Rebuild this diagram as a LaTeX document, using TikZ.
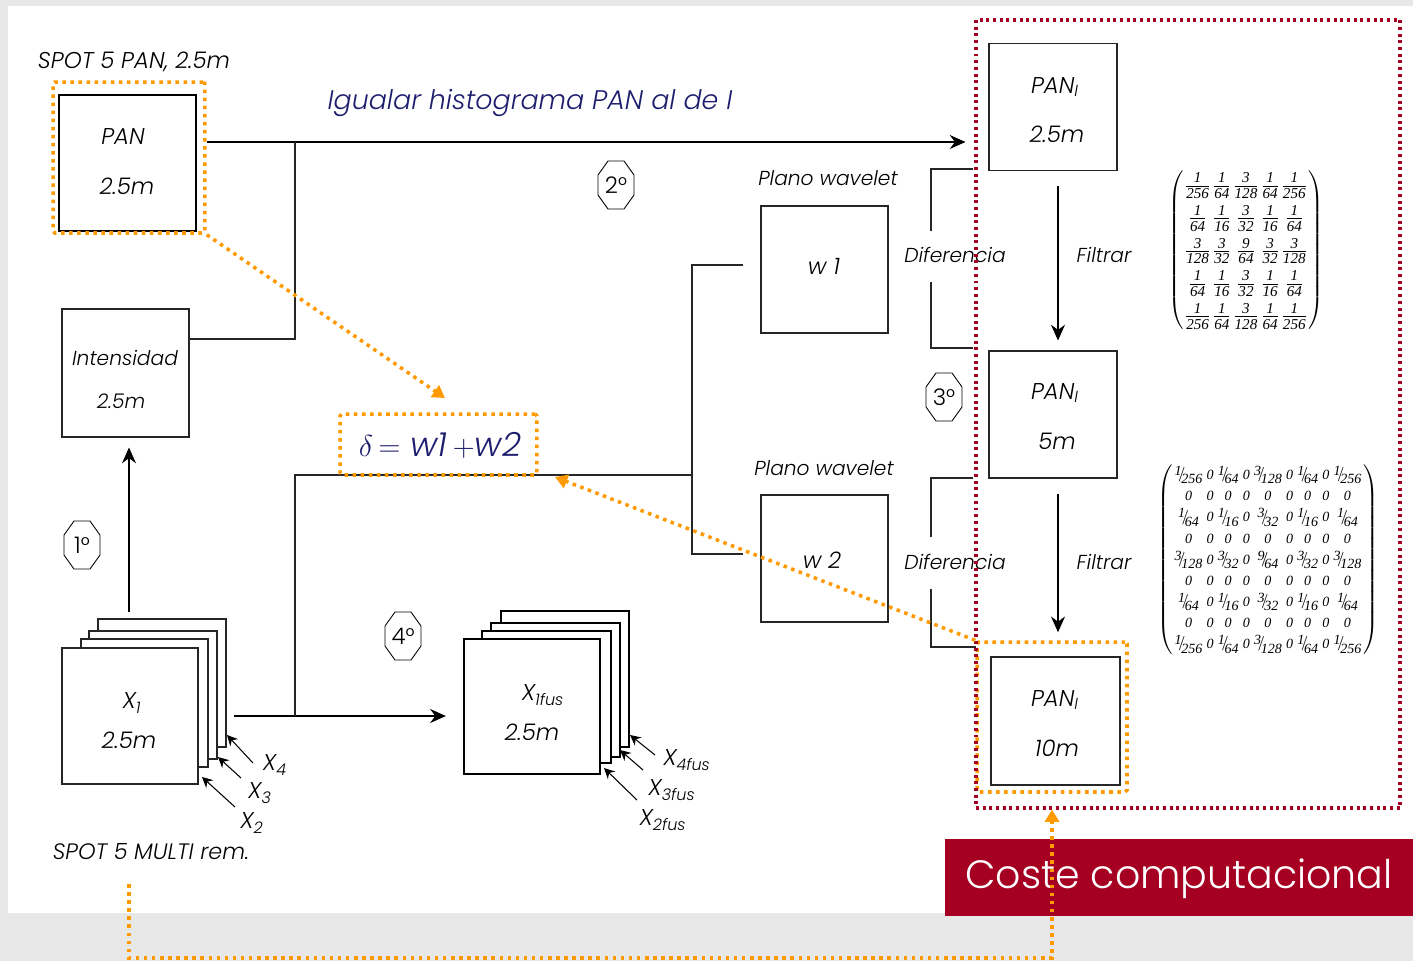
\documentclass[tikz,border=0pt]{standalone}
\usepackage{fontspec}
\usepackage{graphicx}
\setmainfont{Poppins}[UprightFont=* Light, ItalicFont=* Light Italic]
\newfontfamily\mtxf{Liberation Serif}
\usetikzlibrary{arrows.meta,calc}
\definecolor{orng}{RGB}{255,153,0}
\definecolor{dred}{RGB}{165,0,33}
\definecolor{navy}{RGB}{30,30,110}
\definecolor{bgray}{RGB}{232,232,232}
\newcommand\fs{\fontsize{11.5}{14}\selectfont}
\newcommand\fb{\fontsize{13}{14}\selectfont}
\newcommand\mf{\mtxf\itshape\fontsize{8}{8}\selectfont}
\newcommand\mfa{\mtxf\itshape\fontsize{8.6}{8.6}\selectfont}
\newcommand\fr[2]{\frac{\hbox{\mfa #1}}{\hbox{\mfa #2}}}
\newcommand\sfr[2]{\hbox{\mf\raisebox{0.3em}{#1}\kern-0.15em\raisebox{-0.15em}{\scalebox{1}[1.5]{/}}\kern-0.15em\raisebox{-0.3em}{#2}}}
\newcommand\zz{\hbox{\mf 0}}
\newcommand\octo[3]{%
  \node[font=\fb] (#1) at (#2) {#3};
  \draw[line width=0.5pt] ($(#1)+(-8,-24)$) -- ($(#1)+(8,-24)$) -- ($(#1)+(18,-10)$) -- ($(#1)+(18,10)$) -- ($(#1)+(8,24)$) -- ($(#1)+(-8,24)$) -- ($(#1)+(-18,10)$) -- ($(#1)+(-18,-10)$) -- cycle;}
\begin{document}
\begin{tikzpicture}[x=0.02cm,y=-0.02cm,
  bx/.style={draw=black!85, line width=0.6pt, fill=white, inner sep=0pt},
  tbx/.style={draw=black, line width=1.3pt, fill=white, inner sep=0pt},
  lbl/.style={font=\fs\itshape, inner sep=0pt},
  blbl/.style={font=\fb\itshape, inner sep=0pt},
  arr/.style={draw=black, line width=0.6pt, -{Stealth[length=9pt,width=8pt,inset=3pt]}},
  sarr/.style={draw=black, line width=0.6pt, -{Stealth[length=6pt,width=6pt,inset=2pt]}},
  ln/.style={draw=black!85, line width=0.6pt},
  odot/.style={draw=orng, line width=2pt, dash pattern=on 2pt off 2.6pt},
  oarr/.style={odot, -{Triangle[length=7pt,width=8pt,fill=orng]}},
  rdot/.style={draw=dred, line width=1.9pt, dash pattern=on 1.7pt off 2.1pt}]
\useasboundingbox (0,0) rectangle (1413,961);
\fill[bgray] (0,0) rectangle (1413,961);
\fill[white] (8,6) rectangle (1413,913);

% ---- PAN input
\node[font=\fontsize{13}{14}\selectfont\itshape, inner sep=0pt] (spotpan) at (134,62) {SPOT 5 PAN, 2.5m};
\node[tbx, minimum width=2.74cm, minimum height=2.72cm] (pan) at (127.5,163) {};
\node[blbl] (pant) at (123,137) {PAN};
\node[blbl] (panr) at (127,186) {2.5m};
\node[odot, rounded corners=1pt, minimum width=3.04cm, minimum height=3.02cm, inner sep=0pt] (panO) at (129,157.5) {};

% ---- Intensidad
\node[bx, minimum width=2.54cm, minimum height=2.56cm] (int) at (125.5,373) {};
\node[lbl] (intt) at (125,358) {Intensidad};
\node[lbl] (intr) at (121,401) {2.5m};

% ---- title
\node[font=\fontsize{15.3}{18}\selectfont\itshape, text=navy, inner sep=0pt] (igual) at (530,103) {Igualar histograma PAN al de I};

% ---- PAN_I boxes
\node[bx, minimum width=2.56cm, minimum height=2.54cm] (p1) at (1053,107) {};
\node[blbl] (p1t) at (1055,87) {PAN\textsubscript{I}};
\node[blbl] (p1r) at (1057,134) {2.5m};
\node[bx, minimum width=2.56cm, minimum height=2.54cm] (p2) at (1053,414.5) {};
\node[blbl] (p2t) at (1055,393) {PAN\textsubscript{I}};
\node[blbl] (p2r) at (1057,441) {5m};
\node[bx, minimum width=2.58cm, minimum height=2.56cm] (p3) at (1055.5,721) {};
\node[blbl] (p3t) at (1055,700) {PAN\textsubscript{I}};
\node[blbl] (p3r) at (1057,748) {10m};
\node[odot, rounded corners=1pt, minimum width=3.0cm, minimum height=3.0cm, inner sep=0pt] (p3O) at (1052,717) {};

% ---- connectors top
\coordinate (j1) at (295,142);
\coordinate (j2) at (295,339);
\draw[arr, shorten >=0.46cm] (panO.east |- j1) -- (p1.west |- j1);
\draw[ln] (j1) -- (j2) -- (int.east |- j2);

% ---- filters
\coordinate (f1a) at (1058,186);
\coordinate (f2a) at (1058,494);
\draw[arr, shorten >=0.2cm] (f1a) -- (f1a |- p2.north);
\draw[arr, shorten >=0.16cm] (f2a) -- (f2a |- p3O.north);
\node[lbl] (fil1) at (1104,255) {Filtrar};
\node[lbl] (fil2) at (1104,562) {Filtrar};

% ---- wavelet planes
\node[lbl] (pw1) at (828,178) {Plano wavelet};
\node[bx, minimum width=2.54cm, minimum height=2.54cm] (w1) at (824.5,269.5) {};
\node[blbl] (w1t) at (824,266) {w 1};
\node[lbl] (pw2) at (824,468) {Plano wavelet};
\node[bx, minimum width=2.54cm, minimum height=2.54cm] (w2) at (824.5,558.5) {};
\node[blbl] (w2t) at (822,560) {w 2};

% ---- Diferencia brackets
\node[lbl] (dif1) at (955,255) {Diferencia};
\node[lbl] (dif2) at (955,562) {Diferencia};
\coordinate (d1a) at (973,169); \coordinate (d1b) at (931,231);
\coordinate (d1c) at (931,282); \coordinate (d1d) at (973,348);
\draw[ln] (d1a) -| (d1b);
\draw[ln] (d1c) |- (d1d);
\coordinate (d2a) at (973,478); \coordinate (d2b) at (931,537);
\coordinate (d2c) at (931,589); \coordinate (d2d) at (976,647);
\draw[ln] (d2a) -| (d2b);
\draw[ln] (d2c) |- (d2d);

% ---- octagons
\octo{o1}{82,545}{1\textdegree}
\octo{o2}{616,185}{2\textdegree}
\octo{o3}{944,397}{3\textdegree}
\octo{o4}{403,636}{4\textdegree}

% ---- X stack
\node[bx, minimum width=2.56cm, minimum height=2.56cm] (xb4) at (162,683) {};
\node[bx, minimum width=2.56cm, minimum height=2.56cm] (xb3) at (153,695) {};
\node[bx, minimum width=2.54cm, minimum height=2.56cm] (xb2) at (144.5,703) {};
\node[bx, minimum width=2.72cm, minimum height=2.72cm] (x1) at (130,716) {};
\node[blbl] (x1t) at (132,703) {X\textsubscript{1}};
\node[blbl] (x1r) at (129,740) {2.5m};
\node[blbl] (lx4) at (275,765) {X\textsubscript{4}};
\node[blbl] (lx3) at (260,793) {X\textsubscript{3}};
\node[blbl] (lx2) at (252,823) {X\textsubscript{2}};
\draw[sarr] (253,763) -- (227,735);
\draw[sarr] (241,778) -- (218,757);
\draw[sarr] (235,807) -- (202,777);
\node[font=\fontsize{12.7}{14}\selectfont\itshape, inner sep=0pt] (spotm) at (151,852) {SPOT 5 MULTI rem.};
\coordinate (a1s) at (129,612);
\draw[arr, shorten >=0.2cm] (a1s) -- (a1s |- int.south);

% ---- fused stack
\node[tbx, minimum width=2.56cm, minimum height=2.72cm] (fb4) at (565,679) {};
\node[tbx, minimum width=2.58cm, minimum height=2.68cm] (fb3) at (555.5,690) {};
\node[tbx, minimum width=2.58cm, minimum height=2.64cm] (fb2) at (546.5,697) {};
\node[tbx, minimum width=2.72cm, minimum height=2.7cm] (f1) at (532,706.5) {};
\node[blbl] (f1t) at (543,695) {X\textsubscript{1fus}};
\node[blbl] (f1r) at (532,732) {2.5m};
\node[blbl] (lf4) at (687,760) {X\textsubscript{4fus}};
\node[blbl] (lf3) at (672,790) {X\textsubscript{3fus}};
\node[blbl] (lf2) at (663,820) {X\textsubscript{2fus}};
\draw[sarr] (655,755) -- (630,735);
\draw[sarr] (643,770) -- (620,750);
\draw[sarr] (637,800) -- (604,768);

% ---- lower connectors
\coordinate (j3) at (234,716);
\coordinate (j4) at (295,716);
\coordinate (j5) at (295,475);
\coordinate (j6) at (692,475);
\draw[arr, shorten >=0.34cm] (j3) -- (j3 -| f1.west);
\draw[ln] (j4) -- (j5) -- (j6);
\draw[ln] (w1.west |- 0,265) ++(-17,0) -- (692,265) -- (692,554) -- ++(51,0);

% ---- delta
\node[odot, rounded corners=1pt, minimum width=3.94cm, minimum height=1.22cm, inner sep=0pt] (dO) at (438.5,444.5) {};
\node[text=navy, font=\fontsize{19}{22}\selectfont\itshape, inner sep=0pt] (delta) at (440,445) {$\delta$\,$=$ w1\,$+$w2};

% ---- matrices
\node[inner sep=0pt, font=\fs] (mat1) at (1246,250) {$\nulldelimiterspace=0pt\setlength\arraycolsep{1.5pt}\renewcommand\arraystretch{1.33}\left(\begin{array}{ccccc}
\fr{1}{256}&\fr{1}{64}&\fr{3}{128}&\fr{1}{64}&\fr{1}{256}\\
\fr{1}{64}&\fr{1}{16}&\fr{3}{32}&\fr{1}{16}&\fr{1}{64}\\
\fr{3}{128}&\fr{3}{32}&\fr{9}{64}&\fr{3}{32}&\fr{3}{128}\\
\fr{1}{64}&\fr{1}{16}&\fr{3}{32}&\fr{1}{16}&\fr{1}{64}\\
\fr{1}{256}&\fr{1}{64}&\fr{3}{128}&\fr{1}{64}&\fr{1}{256}
\end{array}\right)$};
\node[inner sep=0pt, font=\fs] (mat2) at (1268,560) {$\setlength\arraycolsep{1.2pt}\renewcommand\arraystretch{0.86}\left(\begin{array}{ccccccccc}
\sfr{1}{256}&\zz&\sfr{1}{64}&\zz&\sfr{3}{128}&\zz&\sfr{1}{64}&\zz&\sfr{1}{256}\\
\zz&\zz&\zz&\zz&\zz&\zz&\zz&\zz&\zz\\
\sfr{1}{64}&\zz&\sfr{1}{16}&\zz&\sfr{3}{32}&\zz&\sfr{1}{16}&\zz&\sfr{1}{64}\\
\zz&\zz&\zz&\zz&\zz&\zz&\zz&\zz&\zz\\
\sfr{3}{128}&\zz&\sfr{3}{32}&\zz&\sfr{9}{64}&\zz&\sfr{3}{32}&\zz&\sfr{3}{128}\\
\zz&\zz&\zz&\zz&\zz&\zz&\zz&\zz&\zz\\
\sfr{1}{64}&\zz&\sfr{1}{16}&\zz&\sfr{3}{32}&\zz&\sfr{1}{16}&\zz&\sfr{1}{64}\\
\zz&\zz&\zz&\zz&\zz&\zz&\zz&\zz&\zz\\
\sfr{1}{256}&\zz&\sfr{1}{64}&\zz&\sfr{3}{128}&\zz&\sfr{1}{64}&\zz&\sfr{1}{256}
\end{array}\right)$};

% ---- red dotted region
\node[rdot, minimum width=8.48cm, minimum height=15.76cm, inner sep=0pt] (region) at (1188,414) {};

% ---- Coste computacional
\node[fill=dred, minimum width=9.36cm, minimum height=1.54cm, inner sep=0pt] (coste) at (1179,877.5) {};
\node[text=white, font=\fontsize{22.5}{26}\selectfont, inner sep=0pt] (costet) at (1179,879) {Coste computacional};

% ---- orange connectors
\draw[oarr] (panO.south east) -- (445,398);
\draw[oarr] (p3O.north west) -- (555,477);
\coordinate (ob1) at (129,884);
\coordinate (ob2) at (129,958);
\draw[oarr] (ob1) -- (ob2) -| (region.south -| p3O.north);
\end{tikzpicture}
\end{document}
